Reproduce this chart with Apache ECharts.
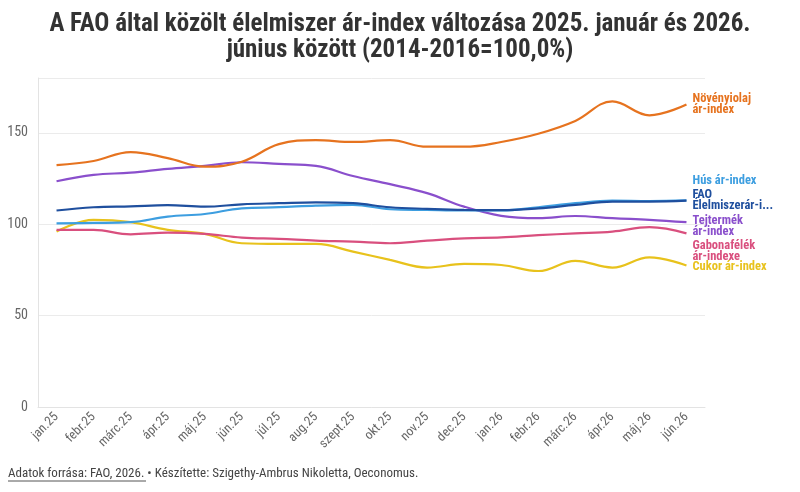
<!DOCTYPE html>
<html><head><meta charset="utf-8">
<script src="https://cdn.jsdelivr.net/npm/echarts@6/dist/echarts.min.js"></script>
<style>html,body{margin:0;padding:0;background:#fff}#c{width:800px;height:492px}</style>
</head><body><div id="c"></div>
<script>
const categories = ['jan.25','febr.25','márc.25','ápr.25','máj.25','jún.25','júl.25','aug.25','szept.25','okt.25','nov.25','dec.25','jan.26','febr.26','márc.26','ápr.26','máj.26','jún.26'];
const novenyolaj = [132.3,134.6,139.5,136.2,131.5,134.2,143.8,146,145,146,142.4,142.4,145,149.5,156.5,167.2,159.6,165.5];
const tejtermek  = [123.5,127,128.2,130.3,131.9,133.9,133,131.9,126.4,121.9,117,109.6,104.6,103.3,104.5,103.3,102.4,101.1];
const fao        = [107.5,109.3,109.8,110.4,109.6,110.9,111.5,112,111.5,109.3,108.4,107.8,107.7,108.7,110.6,112.4,112.4,112.9];
const hus        = [100.5,100.7,101.1,104.2,105.6,108.7,109.3,110.2,110.6,108.2,107.8,107.5,107.5,109.3,111.5,112.9,112.7,113];
const gabona     = [96.9,96.9,94.5,95.4,94.7,92.7,92,91,90.5,89.6,91,92.3,92.8,94,95,96,98.4,95];
const cukor      = [96,102.4,101.1,96.9,94.7,89.6,89.2,89.2,85,80.5,76.3,78.3,77.7,74.4,80,76.3,81.9,77.4];
const seriesNames = ['Növényiolaj\nár-index','Hús ár-index','FAO\nÉlelmiszerár-i...','Tejtermék\nár-index','Gabonafélék\nár-indexe','Cukor ár-index'];
const yTicks = [0,50,100,150];

const FONT = "'Liberation Sans Narrow','Roboto Condensed','DejaVu Sans Condensed',sans-serif";
const colors = ['#e6731f','#3d9ee0','#1f4f9e','#8a4fcc','#d94f7e','#e8c21c'];
const dataSets = [novenyolaj, hus, fao, tejtermek, gabona, cukor];
const offsets = [[-2,0],[-2,-20],[-2,0],[-2,4],[-2,18],[-2,1]];
const z = [6,4,5,3,2,1];

const chart = echarts.init(document.getElementById('c'));
chart.setOption({
  animation:false,
  textStyle:{fontFamily:FONT},
  title:[{
    text:'A FAO által közölt élelmiszer ár-index változása 2025. január és 2026.\njúnius között (2014-2016=100,0%)',
    left:'center', top:7,
    textStyle:{fontSize:25,fontWeight:'bold',color:'#333',fontFamily:FONT,lineHeight:26}
  },{
    text:'Adatok forrása: FAO, 2026. • Készítette: Szigethy-Ambrus Nikoletta, Oeconomus.',
    left:8, top:467, padding:0,
    textStyle:{fontSize:13,fontWeight:'normal',color:'#444',fontFamily:FONT}
  }],
  graphic:[{type:'line',shape:{x1:8,y1:481,x2:146,y2:481},style:{stroke:'#555',lineWidth:1}}],
  grid:{left:38,right:95,top:78,bottom:85},
  xAxis:{
    type:'category', data:categories, boundaryGap:true,
    axisLine:{lineStyle:{color:'#e3e3e3'}}, axisTick:{show:false},
    axisLabel:{rotate:45,color:'#666',fontSize:13,fontFamily:FONT,interval:0,margin:8}
  },
  yAxis:{
    type:'value', min:0, max:180, interval:50,
    axisLine:{show:true,lineStyle:{color:'#e3e3e3'}},
    splitLine:{lineStyle:{color:'#ebebeb'}},
    axisLabel:{color:'#666',fontSize:14,fontFamily:FONT,margin:10,
      formatter:v=> yTicks.includes(v)?String(v):''}
  },
  series: dataSets.map((d,i)=>({
    name:seriesNames[i], type:'line', data:d, smooth:0.4, symbol:'none', z:z[i],
    lineStyle:{color:colors[i],width:2.2},
    itemStyle:{color:colors[i]},
    endLabel:{show:true,formatter:seriesNames[i],color:colors[i],fontWeight:'bold',
      fontSize:12.5,lineHeight:11,fontFamily:FONT,offset:offsets[i]}
  }))
});
</script></body></html>
